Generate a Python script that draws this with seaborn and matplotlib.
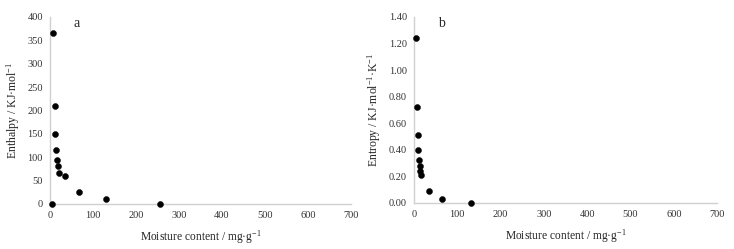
import matplotlib
matplotlib.use("Agg")
import matplotlib.pyplot as plt
import seaborn as sns
import pandas as pd

# Data
moisture_a = [5, 7.8, 10.9, 12.4, 14, 15.5, 18.6, 20, 35.7, 66.6, 130, 257]
enthalpy = [0, 366, 210, 149, 115, 94, 81, 67, 60.5, 26, 10, 0]

moisture_b = [3.9, 6.2, 8.5, 10, 11.6, 13, 14.6, 17, 34.7, 65.5, 131]
entropy = [1.242, 0.72, 0.51, 0.40, 0.324, 0.278, 0.243, 0.208, 0.09, 0.03, 0.0]

x_ticks = [0, 100, 200, 300, 400, 500, 600, 700]
ya_ticks = [0, 50, 100, 150, 200, 250, 300, 350, 400]
yb_ticks = [0.0, 0.2, 0.4, 0.6, 0.8, 1.0, 1.2, 1.4]

sns.set_style("white")
plt.rcParams["font.family"] = ["Liberation Serif", "DejaVu Serif"]
plt.rcParams["mathtext.fontset"] = "custom"
plt.rcParams["mathtext.rm"] = "Liberation Serif"
plt.rcParams["mathtext.it"] = "Liberation Serif:italic"

df_a = pd.DataFrame({"m": moisture_a, "v": enthalpy})
df_b = pd.DataFrame({"m": moisture_b, "v": entropy})

fig = plt.figure(figsize=(7.34, 2.49), dpi=100)
ax1 = fig.add_axes([0.068, 0.181, 0.410, 0.751])
ax2 = fig.add_axes([0.564, 0.185, 0.413, 0.747])

spine_col = "#d0d0d0"
for ax, df, yt, ylab, letter, ytop, fmt in [
    (ax1, df_a, ya_ticks, "Enthalpy / KJ·mol$^{-1}$", "a", 400, "{:.0f}"),
    (ax2, df_b, yb_ticks, "Entropy / KJ·mol$^{-1}$·K$^{-1}$", "b", 1.4, "{:.2f}"),
]:
    sns.scatterplot(data=df, x="m", y="v", ax=ax, color="black", s=19,
                    edgecolor="black", linewidth=0.3, zorder=3, clip_on=False)
    ax.set_xlim(0, 700)
    ax.set_ylim(0, ytop)
    ax.set_xticks(x_ticks)
    ax.set_xticklabels([str(t) for t in x_ticks], fontsize=7.5, color="#333333")
    ax.set_yticks(yt)
    ax.set_yticklabels([fmt.format(t) for t in yt], fontsize=7.5, color="#333333")
    ax.tick_params(length=0, pad=5)
    for s in ["top", "right"]:
        ax.spines[s].set_visible(False)
    for s in ["left", "bottom"]:
        ax.spines[s].set_color(spine_col)
        ax.spines[s].set_linewidth(1.0)
    ax.set_xlabel("Moisture content / mg·g$^{-1}$", fontsize=8.3, labelpad=6)
    ax.set_ylabel(ylab, fontsize=8.5, labelpad=4)
    ax.text(0.09, 0.965, letter, transform=ax.transAxes, fontsize=10,
            ha="center", va="center")

fig.savefig("out.png", dpi=100, facecolor="white")
